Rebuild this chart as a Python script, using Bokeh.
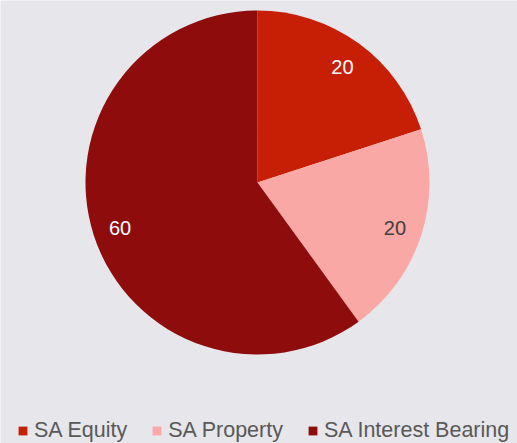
import math
from bokeh.plotting import figure
from bokeh.models import ColumnDataSource, Legend, LegendItem
from bokeh.core.properties import value
from bokeh.embed import file_html
from bokeh.resources import INLINE

categories = ["SA Equity", "SA Property", "SA Interest Bearing"]
values = [20, 20, 60]
colors = ["#C71E06", "#F9A8A6", "#8E0C0C"]
label_colors = ["#FFFFFF", "#404040", "#FFFFFF"]

W, H = 517, 443
cx, cy, r = 257, H - 182, 172

total = sum(values)
starts, ends, lx, ly, txt = [], [], [], [], []
acc = 0.0
for v in values:
    a0 = math.pi / 2 - 2 * math.pi * acc / total
    a1 = math.pi / 2 - 2 * math.pi * (acc + v) / total
    starts.append(a0)
    ends.append(a1)
    mid = (a0 + a1) / 2
    lx.append(cx + 0.84 * r * math.cos(mid))
    ly.append(cy + 0.84 * r * math.sin(mid) - 1)
    txt.append(str(v))
    acc += v

src = ColumnDataSource(dict(cat=categories, val=values, color=colors,
                            start=starts, end=ends, lx=lx, ly=ly, txt=txt,
                            lc=label_colors))

p = figure(width=W, height=H, x_range=(0, W), y_range=(0, H),
           output_backend="svg", toolbar_location=None, min_border=0)
p.axis.visible = False
p.grid.visible = False
p.outline_line_color = None
p.background_fill_color = "#E6E6EB"
p.border_fill_color = "#E6E6EB"

w = p.wedge(x=cx, y=cy, radius=r, radius_units="data", start_angle="end",
            end_angle="start", fill_color="color", line_color=None, source=src)

p.text(x="lx", y="ly", text="txt", text_color="lc", source=src,
       text_align="center", text_baseline="middle",
       text_font=value("Liberation Sans"), text_font_size="20px")

items = [LegendItem(label=c, renderers=[w], index=i) for i, c in enumerate(categories)]
legend = Legend(items=items, orientation="horizontal", location=(17, 0),
                glyph_width=11, glyph_height=11, label_height=22,
                label_standoff=6, spacing=24, padding=0, margin=0,
                border_line_color=None, background_fill_alpha=0,
                label_text_font="Liberation Sans", label_text_font_size="21.5px",
                label_text_color="#595959")
p.add_layout(legend)

open("out.html", "w").write(file_html(p, INLINE))
